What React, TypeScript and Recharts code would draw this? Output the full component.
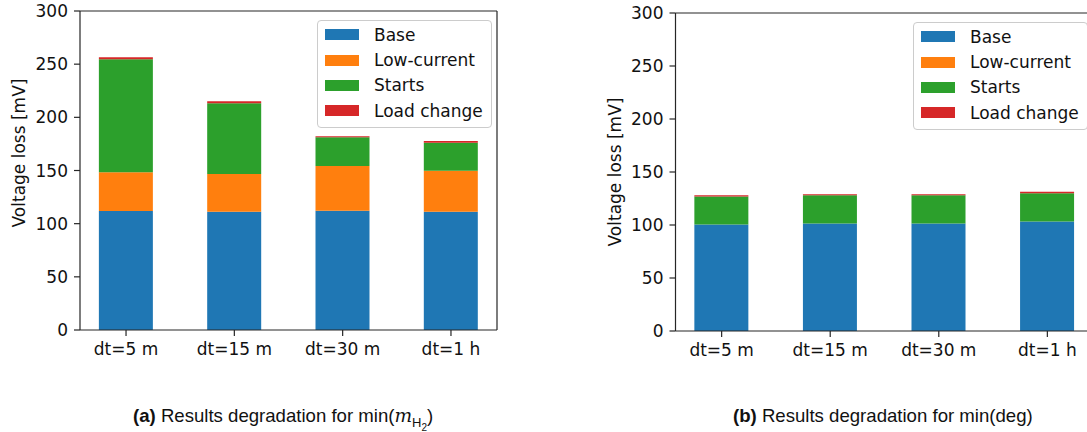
import React from 'react';
import { BarChart, Bar, XAxis, YAxis, Legend, ReferenceLine } from 'recharts';

const categories = ['dt=5 m', 'dt=15 m', 'dt=30 m', 'dt=1 h'];
const yTicks = [0, 50, 100, 150, 200, 250, 300];

// (a) min(m_H2)
const baseA = [112, 111.3, 112.2, 111.3];
const lowCurrentA = [36.3, 35.4, 42, 38.5];
const startsA = [106.3, 66.5, 27, 26.4];
const loadChangeA = [1.8, 1.9, 0.9, 1.5];

// (b) min(deg)
const baseB = [100.4, 101.3, 101.3, 103.2];
const lowCurrentB = [0, 0, 0, 0];
const startsB = [26.4, 26.8, 26.8, 26.8];
const loadChangeB = [1.3, 1.0, 1.0, 1.3];

const SERIES = [
  { key: 'base', name: 'Base', color: '#1f77b4' },
  { key: 'low', name: 'Low-current', color: '#ff7f0e' },
  { key: 'starts', name: 'Starts', color: '#2ca02c' },
  { key: 'load', name: 'Load change', color: '#d62728' },
];

const FONT = '"DejaVu Sans", sans-serif';
const AXIS = '#262626';

function buildRows(base: number[], low: number[], starts: number[], load: number[]) {
  return categories.map((c, i) => ({
    pos: i,
    label: c,
    base: base[i],
    low: low[i],
    starts: starts[i],
    load: load[i],
  }));
}

const rowsA = buildRows(baseA, lowCurrentA, startsA, loadChangeA);
const rowsB = buildRows(baseB, lowCurrentB, startsB, loadChangeB);

function LegendBox() {
  return (
    <div
      style={{
        border: '1px solid #cccccc',
        borderRadius: 4,
        background: 'rgba(255,255,255,0.8)',
        padding: '1px 8px 3px 7px',
        fontFamily: FONT,
        fontSize: 17,
        color: '#111',
      }}
    >
      {SERIES.map((s) => (
        <div key={s.key} style={{ display: 'flex', alignItems: 'center', height: 25.4 }}>
          <span style={{ width: 34, height: 11, background: s.color, marginRight: 15, flex: 'none' }} />
          <span style={{ whiteSpace: 'nowrap', lineHeight: '20px' }}>{s.name}</span>
        </div>
      ))}
    </div>
  );
}

interface PanelProps {
  rows: ReturnType<typeof buildRows>;
  width: number;
  height: number;
  margin: { top: number; right: number; bottom: number; left: number };
  yAxisWidth: number;
  labelX: number;
  labelY: number;
  legendLeft: number;
  legendTop: number;
}

function Panel({ rows, width, height, margin, yAxisWidth, labelX, labelY, legendLeft, legendTop }: PanelProps) {
  const tick = { fontSize: 17, fontFamily: FONT, fill: '#111' };
  return (
    <BarChart width={width} height={height} data={rows} margin={margin}>
      <XAxis
        type="number"
        dataKey="pos"
        domain={[-0.425, 3.425]}
        ticks={[0, 1, 2, 3]}
        allowDataOverflow
        tickFormatter={(v: number) => categories[v] ?? ''}
        tick={tick}
        tickSize={6}
        tickMargin={7}
        height={40}
        stroke={AXIS}
        strokeWidth={1.2}
        interval={0}
      />
      <YAxis
        type="number"
        domain={[0, 300]}
        ticks={yTicks}
        allowDataOverflow
        tick={tick}
        tickSize={6}
        tickMargin={6}
        width={yAxisWidth}
        stroke={AXIS}
        strokeWidth={1.2}
        label={() => (
          <text
            x={labelX}
            y={labelY}
            transform={`rotate(-90, ${labelX}, ${labelY})`}
            textAnchor="middle"
            dominantBaseline="central"
            fontSize={17}
            fontFamily={FONT}
            fill="#111"
          >
            Voltage loss [mV]
          </text>
        )}
      />
      {SERIES.map((s) => (
        <Bar
          key={s.key}
          dataKey={s.key}
          name={s.name}
          stackId="a"
          fill={s.color}
          barSize={54}
          isAnimationActive={false}
        />
      ))}
      <ReferenceLine y={300} stroke={AXIS} strokeWidth={1.2} />
      <ReferenceLine x={3.425} stroke={AXIS} strokeWidth={1.2} />
      <Legend
        layout="vertical"
        align="center"
        verticalAlign="middle"
        content={() => <LegendBox />}
        wrapperStyle={{ left: legendLeft, top: legendTop, width: 'auto', height: 'auto' }}
      />
    </BarChart>
  );
}

const captionStyle: React.CSSProperties = {
  position: 'absolute',
  top: 405,
  fontFamily: '"Liberation Sans", Arial, sans-serif',
  fontSize: 18.6,
  color: '#111',
  whiteSpace: 'nowrap',
  lineHeight: '21px',
};

export default function App() {
  return (
    <div
      style={{
        position: 'absolute',
        left: 0,
        top: 0,
        width: 1087,
        height: 432,
        overflow: 'hidden',
        background: '#fff',
      }}
    >
      <div style={{ position: 'absolute', left: 0, top: 0 }}>
        <Panel
          rows={rowsA}
          width={520}
          height={370}
          margin={{ top: 11, right: 23, bottom: 0, left: 0 }}
          yAxisWidth={80}
          labelX={19}
          labelY={153}
          legendLeft={317}
          legendTop={20}
        />
      </div>
      <div style={{ position: 'absolute', left: 590, top: 0 }}>
        <Panel
          rows={rowsB}
          width={515}
          height={371}
          margin={{ top: 13, right: 11.5, bottom: 0, left: 0 }}
          yAxisWidth={85.5}
          labelX={25}
          labelY={172}
          legendLeft={323}
          legendTop={22}
        />
      </div>
      <div style={{ ...captionStyle, left: 133 }}>
        <b>(a)</b> Results degradation for min(
        <i style={{ fontFamily: '"DejaVu Serif", serif' }}>m</i>
        <sub style={{ fontSize: 13 }}>
          H<sub style={{ fontSize: 10 }}>2</sub>
        </sub>
        )
      </div>
      <div style={{ ...captionStyle, left: 733 }}>
        <b>(b)</b> Results degradation for min(deg)
      </div>
    </div>
  );
}
